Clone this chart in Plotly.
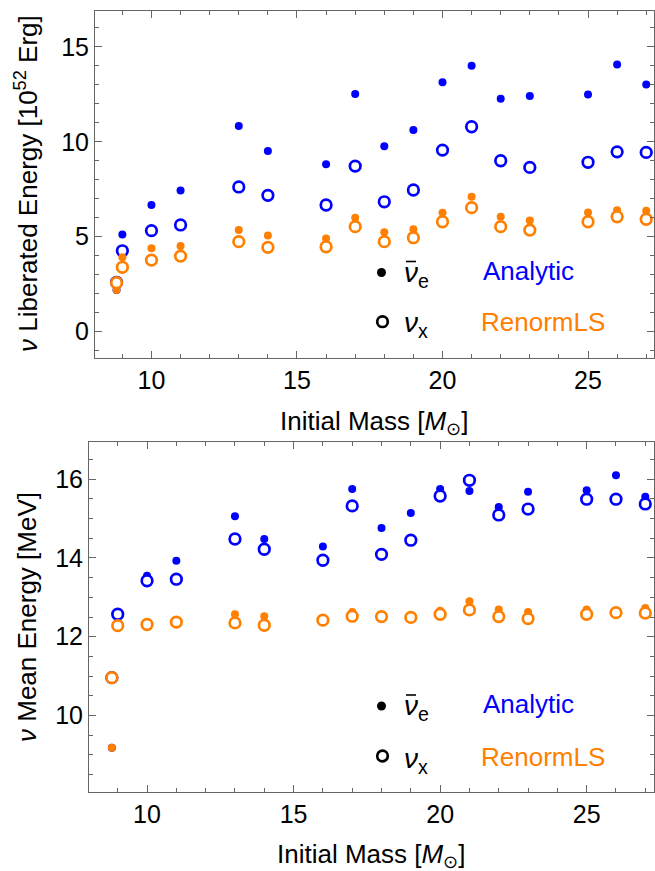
import plotly.graph_objects as go

# ---------------- data ----------------
mass = [8.8, 9, 10, 11, 13, 14, 16, 17, 18, 19, 20, 21, 22, 23, 25, 26, 27]

# Liberated energy [1e52 erg]
E_an_nuebar = [2.2, 5.12, 6.67, 7.44, 10.83, 9.51, 8.81, 12.51, 9.77, 10.62, 13.13, 14.0, 12.26, 12.41, 12.49, 14.07, 13.02]
E_an_nux    = [2.6, 4.26, 5.32, 5.62, 7.62, 7.18, 6.67, 8.72, 6.84, 7.46, 9.56, 10.79, 9.0, 8.65, 8.92, 9.47, 9.44]
E_rl_nuebar = [2.2, 3.92, 4.39, 4.51, 5.35, 5.07, 4.91, 6.0, 5.23, 5.39, 6.26, 7.11, 6.05, 5.86, 6.28, 6.4, 6.37]
E_rl_nux    = [2.58, 3.39, 3.77, 3.98, 4.74, 4.44, 4.47, 5.53, 4.74, 4.95, 5.79, 6.53, 5.53, 5.35, 5.79, 6.05, 5.92]

# Mean energy [MeV]
M_an_nuebar = [9.18, 12.6, 13.55, 13.93, 15.06, 14.48, 14.29, 15.75, 14.76, 15.14, 15.75, 15.70, 15.29, 15.68, 15.72, 16.1, 15.55]
M_an_nux    = [10.96, 12.57, 13.42, 13.46, 14.48, 14.22, 13.94, 15.32, 14.09, 14.45, 15.57, 15.97, 15.09, 15.24, 15.49, 15.49, 15.37]
M_rl_nuebar = [9.18, 12.3, 12.32, 12.39, 12.57, 12.52, 12.45, 12.63, 12.53, 12.5, 12.66, 12.9, 12.69, 12.63, 12.69, 12.65, 12.73]
M_rl_nux    = [10.96, 12.28, 12.31, 12.37, 12.35, 12.29, 12.42, 12.52, 12.51, 12.49, 12.57, 12.68, 12.51, 12.46, 12.57, 12.61, 12.6]

BLUE = "#0000FF"
ORANGE = "#FF8000"
FRAME = "#666666"
FONT = "Liberation Sans, Arial, sans-serif"
FS = 26
TFS = 25

W, H = 655, 871
def px(x):
    return x / W
def py(y):
    return 1 - y / H

fig = go.Figure()

def add_series(xa, ya, an_dot, an_circ, rl_dot, rl_circ):
    for vals, col, kind in [(an_dot, BLUE, "dot"), (an_circ, BLUE, "circ"),
                            (rl_dot, ORANGE, "dot"), (rl_circ, ORANGE, "circ")]:
        if kind == "dot":
            marker = dict(symbol="circle", size=8, color=col, line=dict(width=0))
        else:
            marker = dict(symbol="circle", size=10.6, color="white", line=dict(width=2.7, color=col))
        fig.add_trace(go.Scatter(x=mass, y=vals, mode="markers", marker=marker,
                                 xaxis=xa, yaxis=ya, showlegend=False, hoverinfo="skip",
                                 cliponaxis=False))

add_series("x", "y", E_an_nuebar, E_an_nux, E_rl_nuebar, E_rl_nux)
add_series("x2", "y2", M_an_nuebar, M_an_nux, M_rl_nuebar, M_rl_nux)

axis_common = dict(showline=True, linecolor=FRAME, linewidth=1, mirror="allticks",
                   ticks="inside", tickcolor=FRAME, ticklen=7, tickwidth=1,
                   showgrid=False, zeroline=False,
                   tickfont=dict(family=FONT, size=TFS, color="black"))

def minor(d):
    return dict(dtick=d, tick0=0, ticks="inside", ticklen=4, tickcolor=FRAME, showgrid=False)

fig.update_layout(
    width=W, height=H, margin=dict(l=0, r=0, t=0, b=0),
    plot_bgcolor="white", paper_bgcolor="white",
    xaxis=dict(domain=[px(95), px(653.5)], range=[8.06, 27.25], anchor="y",
               tickvals=[10, 15, 20, 25], minor=minor(1), **axis_common),
    yaxis=dict(domain=[py(358.3), py(10.7)], range=[-1.4, 16.9], anchor="x",
               tickvals=[0, 5, 10, 15], minor=minor(1), **axis_common),
    xaxis2=dict(domain=[px(89), px(653.5)], range=[8.02, 27.28], anchor="y2",
                tickvals=[10, 15, 20, 25], minor=minor(1), **axis_common),
    yaxis2=dict(domain=[py(792.3), py(441.7)], range=[8.05, 16.95], anchor="x2",
                tickvals=[10, 12, 14, 16], minor=minor(0.5), **axis_common),
)

ann = []
def text(x, y, s, color="black", xanchor="center", angle=0, size=FS):
    ann.append(dict(x=px(x), y=py(y), xref="paper", yref="paper", text=s, showarrow=False,
                    xanchor=xanchor, yanchor="middle", textangle=angle,
                    font=dict(family=FONT, size=size, color=color)))

# axis titles
text(374, 422, "Initial Mass [<i>M</i><sub>⊙</sub>]")
text(371, 855, "Initial Mass [<i>M</i><sub>⊙</sub>]")
text(26, 184, "<i>ν</i> Liberated Energy [10<sup>52</sup> Erg]", angle=-90)
text(27, 617, "<i>ν</i> Mean Energy [MeV]", angle=-90)

# legends
NUEBAR = "<i>ν</i><sub>e</sub>"
NUX = "<i>ν</i><sub>x</sub>"
shapes = []
def dot(x, y, open_=False):
    if open_:
        shapes.append(dict(type="circle", xref="paper", yref="paper", xsizemode="pixel", ysizemode="pixel",
                           xanchor=px(x), yanchor=py(y), x0=-5.3, x1=5.3, y0=-5.3, y1=5.3,
                           line=dict(color="black", width=2.7), fillcolor="white"))
    else:
        shapes.append(dict(type="circle", xref="paper", yref="paper", xsizemode="pixel", ysizemode="pixel",
                           xanchor=px(x), yanchor=py(y), x0=-4.5, x1=4.5, y0=-4.5, y1=4.5,
                           line=dict(width=0), fillcolor="black"))

for (yd, yc, ya, yr) in [(272.5, 321.7, 271, 322), (706, 756, 704, 757)]:
    dot(381.5, yd)
    dot(382.5, yc, open_=True)
    text(402, ya + 3, NUEBAR, xanchor="left", size=28)
    text(402, yr + 3, NUX, xanchor="left", size=28)
    # overbar of the anti-neutrino symbol
    shapes.append(dict(type="line", xref="paper", yref="paper",
                       x0=px(406), x1=px(416), y0=py(yd - 11), y1=py(yd - 11),
                       line=dict(color="black", width=1.6)))
    text(481, ya, "Analytic", color=BLUE, xanchor="left")
    text(479, yr, "RenormLS", color=ORANGE, xanchor="left")

fig.update_layout(annotations=ann, shapes=shapes)
fig.write_html("out.html", config={"displayModeBar": False},
               post_script="document.body.style.margin='0';document.body.style.overflow='hidden';")
